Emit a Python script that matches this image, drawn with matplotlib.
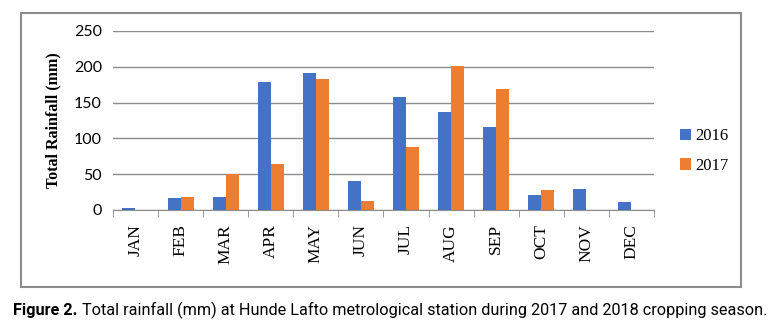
import matplotlib.pyplot as plt
import numpy as np
from matplotlib.patches import Rectangle

# monthly rainfall (mm)
months = ['JAN', 'FEB', 'MAR', 'APR', 'MAY', 'JUN', 'JUL', 'AUG', 'SEP', 'OCT', 'NOV', 'DEC']
rain_2016 = [3, 17, 18, 179, 191, 40, 158, 137, 116, 21, 30, 11]
rain_2017 = [0, 18, 50, 64, 183, 12, 88, 201, 169, 28, 0, 0]
years = ['2016', '2017']

blue = '#4472C4'
orange = '#ED7D31'

fig = plt.figure(figsize=(7.79, 3.31), dpi=100)
ax = fig.add_axes([0.145, 0.3656, 0.6945, 0.5408])

x = np.arange(len(months))
w = 0.29
ax.bar(x - w / 2, rain_2016, w, color=blue, label=years[0], zorder=3)
ax.bar(x + w / 2, rain_2017, w, color=orange, label=years[1], zorder=3)

ax.set_xlim(-0.5, len(months) - 0.5)
ax.set_ylim(0, 250)
ax.set_yticks([0, 50, 100, 150, 200, 250])
ax.yaxis.grid(True, color='#8c8c8c', linewidth=1, zorder=0)
for s in ['top', 'right', 'left']:
    ax.spines[s].set_visible(False)
ax.spines['bottom'].set_color('#8c8c8c')
ax.tick_params(axis='y', length=0, labelsize=11.5, pad=8)
for lab in ax.get_yticklabels():
    lab.set_family(['Lato', 'DejaVu Sans'])

ax.set_xticks(x)
ax.set_xticklabels(months, rotation=90, family='Liberation Serif', fontsize=12.5)
ax.tick_params(axis='x', which='major', length=0, pad=10)
ax.set_xticks(np.arange(-0.5, len(months)), minor=True)
ax.tick_params(axis='x', which='minor', length=5, color='#8c8c8c')

ax.set_ylabel('Total Rainfall (mm)', family='Liberation Serif', fontweight='bold',
              fontsize=11.5, labelpad=9)

ax.legend(loc='center left', bbox_to_anchor=(1.02, 0.33), frameon=False,
          prop={'family': 'Liberation Serif', 'size': 12},
          handlelength=0.7, handleheight=0.7, handletextpad=0.2, labelspacing=0.8)

# outer chart frame
fig.patches.append(Rectangle((0.027, 0.133), 0.924, 0.8277, transform=fig.transFigure,
                             fill=False, edgecolor='#8c8c8c', linewidth=1.5))

# caption, sized to span the same width as the reference
cap_fam = ['Roboto', 'DejaVu Sans']
cap_rest = ' Total rainfall (mm) at Hunde Lafto metrological station during 2017 and 2018 cropping season.'
r = fig.canvas.get_renderer()
size = 12
for _ in range(3):
    t1 = fig.text(0.017, 0.063, 'Figure 2.', fontweight='bold', fontsize=size,
                  family=cap_fam, va='center')
    bb = t1.get_window_extent(renderer=r)
    t2 = fig.text(bb.x1 / fig.bbox.width, 0.063, cap_rest, fontsize=size,
                  family=cap_fam, va='center')
    bb2 = t2.get_window_extent(renderer=r)
    total = bb2.x1 - bb.x0
    if abs(total - 752) < 3:
        break
    t1.remove()
    t2.remove()
    size = size * 752 / total

fig.savefig('out.png', dpi=100)
